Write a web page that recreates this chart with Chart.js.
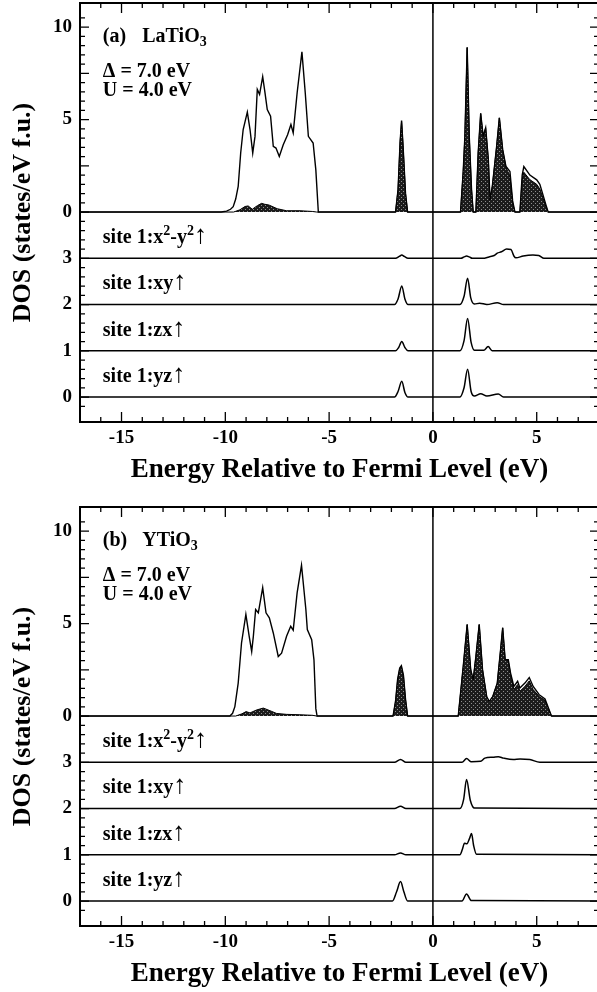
<!DOCTYPE html>
<html>
<head>
<meta charset="utf-8">
<script src="https://cdn.jsdelivr.net/npm/chart.js@4.4.1/dist/chart.umd.min.js"></script>
<style>
    html, body { margin: 0; padding: 0; background: #fff; overflow: hidden; width: 597px; height: 992px; }
    .panel { position: absolute; left: 0; width: 600px; height: 488px; }
    #pa { top: 0; }
    #pb { top: 504px; }
</style>
</head>
<body>
<div class="panel" id="pa"><canvas id="ca" width="600" height="488"></canvas></div>
<div class="panel" id="pb"><canvas id="cb" width="600" height="488"></canvas></div>
<script>
// DOS panels: total DOS (upper) + Ti partial DOS stacked below

const SERIF = "'Liberation Serif', 'Times New Roman', 'DejaVu Serif', serif";

// axes
const energyMin = -17, energyMax = 8;
const xTickLabels = [-15, -10, -5, 0, 5];
const yUpperLabels = [0, 5, 10];
const yLowerLabels = [0, 1, 2, 3];
const yMin = -11.35, yMax = 11.3;
const lowerScale = 2.5;     // one lower unit = 2.5 upper units
const lowerZero = -10;      // upper-scale position of lower "0"
const orbitalBase = [3, 2, 1, 0];   // x2-y2, xy, zx, yz

// (a) LaTiO3  [energy eV, DOS]
const laTotal = [[-17,0],[-10.2,0],[-9.94,0.05],[-9.75,0.15],[-9.62,0.29],[-9.5,0.7],[-9.38,1.38],[-9.26,3.19],[-9.14,4.46],[-8.94,5.4],[-8.81,4.46],[-8.68,3.19],[-8.57,4.09],[-8.46,6.63],[-8.35,6.36],[-8.2,7.32],[-8.09,6.45],[-7.98,5.54],[-7.82,5.18],[-7.69,3.55],[-7.56,3.46],[-7.4,3.0],[-7.21,3.64],[-7.0,4.18],[-6.84,4.73],[-6.73,4.28],[-6.54,6.45],[-6.31,8.66],[-6.15,6.45],[-6.0,4.09],[-5.77,3.73],[-5.64,2.28],[-5.52,0],
    [-1.8,0],[-1.68,1.2],[-1.58,3.8],[-1.51,4.95],[-1.44,3.6],[-1.32,1.0],[-1.22,0],
    [1.33,0],[1.46,2.2],[1.54,4.09],[1.65,8.9],[1.75,4.09],[1.86,1.2],[1.94,0],
    [2.07,0],[2.18,3.19],[2.3,5.33],[2.42,4.09],[2.54,4.55],[2.67,2.83],[2.75,0.65],[2.86,1.38],[3.07,3.55],[3.2,5.09],[3.36,3.37],[3.52,2.46],[3.71,2.19],[3.84,0.6],[3.95,0],
    [4.19,0],[4.3,2.0],[4.38,2.46],[4.67,2.0],[5.0,1.74],[5.15,1.5],[5.44,0.4],[5.55,0],[8,0]];
const laTi = [[-17,0],[-9.6,0],[-9.3,0.12],[-9.05,0.3],[-8.9,0.33],[-8.7,0.15],[-8.45,0.35],[-8.25,0.47],[-8.1,0.42],[-7.9,0.38],[-7.5,0.18],[-7.05,0.07],[-6.4,0.07],[-5.8,0.03],[-5.6,0],
    [-1.8,0],[-1.68,1.2],[-1.58,3.8],[-1.51,4.9],[-1.44,3.6],[-1.32,1.0],[-1.22,0],
    [1.33,0],[1.46,2.2],[1.54,4.09],[1.65,8.9],[1.75,4.09],[1.86,1.2],[1.94,0],
    [2.07,0],[2.18,3.19],[2.3,5.33],[2.42,4.09],[2.54,4.55],[2.67,2.83],[2.75,0.65],[2.86,1.38],[3.07,3.55],[3.2,5.09],[3.36,3.37],[3.52,2.4],[3.71,1.95],[3.84,0.5],[3.95,0],
    [4.19,0],[4.3,1.75],[4.38,2.15],[4.67,1.75],[5.0,1.5],[5.15,1.25],[5.44,0.3],[5.55,0],[8,0]];
const laX2y2 = [[-17,0],[-1.8,0],[-1.62,0.04],[-1.5,0.07],[-1.38,0.04],[-1.2,0],[1.35,0],[1.5,0.03],[1.62,0.05],[1.75,0.03],[1.9,0],[2.4,0],[2.7,0.03],[2.95,0.06],[3.1,0.11],[3.3,0.14],[3.55,0.2],[3.76,0.19],[3.9,0.05],[4.0,0.01],[4.35,0.05],[4.82,0.07],[5.1,0.06],[5.35,0],[8,0]];
const laXy = [[-17,0],[-1.85,0],[-1.68,0.12],[-1.5,0.4],[-1.35,0.12],[-1.2,0],[1.3,0],[1.5,0.18],[1.67,0.57],[1.82,0.15],[2.0,0.01],[2.25,0.03],[2.6,0],[3.1,0.04],[3.4,0],[8,0]];
const laZx = [[-17,0],[-1.8,0],[-1.65,0.07],[-1.5,0.2],[-1.35,0.07],[-1.2,0],[1.3,0],[1.5,0.22],[1.67,0.7],[1.84,0.18],[2.0,0.01],[2.45,0.01],[2.66,0.09],[2.85,0],[8,0]];
const laYz = [[-17,0],[-1.85,0],[-1.68,0.12],[-1.5,0.34],[-1.35,0.1],[-1.2,0],[1.3,0],[1.5,0.2],[1.67,0.6],[1.84,0.12],[2.0,0.02],[2.3,0.07],[2.6,0.02],[3.15,0.065],[3.4,0],[8,0]];

// (b) YTiO3
const ytTotal = [[-17,0],[-9.78,0],[-9.65,0.15],[-9.54,0.51],[-9.38,1.78],[-9.22,3.95],[-9.01,5.49],[-8.85,4.31],[-8.73,3.49],[-8.65,4.31],[-8.54,5.76],[-8.41,5.58],[-8.2,6.94],[-8.04,5.58],[-7.88,5.31],[-7.69,4.49],[-7.45,3.22],[-7.29,3.4],[-7.05,4.31],[-6.85,4.85],[-6.73,4.64],[-6.54,6.67],[-6.33,8.15],[-6.12,5.76],[-6.05,4.67],[-5.84,4.13],[-5.73,3.04],[-5.64,0.4],[-5.58,0],
    [-1.92,0],[-1.8,0.8],[-1.7,2.0],[-1.6,2.6],[-1.52,2.72],[-1.42,2.2],[-1.32,0.9],[-1.22,0],
    [1.22,0],[1.46,2.68],[1.65,4.95],[1.82,2.5],[1.94,1.96],[2.07,3.22],[2.23,4.95],[2.39,2.5],[2.59,1.05],[2.71,0.78],[2.88,1.05],[3.1,1.78],[3.26,3.59],[3.36,4.77],[3.48,3.04],[3.63,3.04],[3.74,2.32],[3.9,1.6],[4.08,1.88],[4.19,1.52],[4.43,1.78],[4.64,2.08],[4.83,1.6],[5.12,1.15],[5.4,0.92],[5.71,0],[8,0]];
const ytTi = [[-17,0],[-9.5,0],[-9.2,0.12],[-9.0,0.24],[-8.81,0.17],[-8.49,0.33],[-8.17,0.43],[-7.85,0.29],[-7.53,0.14],[-7.05,0.09],[-6.41,0.07],[-5.8,0.04],[-5.6,0],
    [-1.92,0],[-1.8,0.78],[-1.7,1.95],[-1.6,2.55],[-1.52,2.68],[-1.42,2.15],[-1.32,0.88],[-1.22,0],
    [1.22,0],[1.46,2.68],[1.65,4.95],[1.82,2.5],[1.94,1.96],[2.07,3.22],[2.23,4.95],[2.39,2.5],[2.59,1.05],[2.71,0.78],[2.88,1.05],[3.1,1.78],[3.26,3.59],[3.36,4.77],[3.48,3.04],[3.63,3.0],[3.74,2.25],[3.9,1.43],[4.08,1.7],[4.19,1.34],[4.43,1.6],[4.64,1.9],[4.83,1.43],[5.12,1.05],[5.4,0.85],[5.71,0],[8,0]];
const ytX2y2 = [[-17,0],[-1.85,0],[-1.56,0.06],[-1.3,0],[1.4,0],[1.62,0.08],[1.85,0.01],[2.3,0.02],[2.5,0.09],[2.9,0.11],[3.15,0.12],[3.4,0.09],[3.87,0.06],[4.2,0.07],[4.67,0.06],[5.15,0],[8,0]];
const ytXy = [[-17,0],[-1.85,0],[-1.56,0.05],[-1.3,0],[1.3,0],[1.48,0.2],[1.62,0.63],[1.8,0.18],[2.0,0.01],[8,0]];
const ytZx = [[-17,0],[-1.85,0],[-1.56,0.04],[-1.3,0],[1.3,0],[1.42,0.12],[1.52,0.25],[1.64,0.24],[1.76,0.35],[1.86,0.46],[1.96,0.2],[2.1,0.01],[8,0]];
const ytYz = [[-17,0],[-1.95,0],[-1.75,0.2],[-1.56,0.42],[-1.4,0.2],[-1.22,0],[1.4,0],[1.62,0.15],[1.85,0.01],[8,0]];

/**
 * Dark speckled fill used for the Ti partial DOS
 */
function makeHatch() {
    const c = document.createElement('canvas');
    c.width = 4; c.height = 4;
    const g = c.getContext('2d');
    g.fillStyle = '#1c1c1c';
    g.fillRect(0, 0, 4, 4);
    g.fillStyle = '#8e8e8e';
    g.fillRect(1, 1, 1, 1);
    g.fillRect(3, 3, 1, 1);
    return g.createPattern(c, 'repeat');
}

function pts(arr, base) {
    return arr.map(([e, v]) => ({ x: e, y: (base || 0) + v }));
}

/**
 * Draw text with sub/superscript pieces, starting at baseline (x, y)
 */
function drawRich(ctx, x, y, parts, size) {
    let cx = x;
    parts.forEach(p => {
        const small = p.sup || p.sub;
        const s = small ? Math.round(size * 0.68) : size;
        ctx.font = p.font || ('bold ' + s + 'px ' + SERIF);
        const dy = p.sup ? -size * 0.4 : (p.sub ? size * 0.22 : 0);
        ctx.fillText(p.t, cx, y + dy);
        cx += ctx.measureText(p.t).width;
    });
}

const ARROW = { t: '\u2191', font: 'normal 26px ' + SERIF };
const orbitalLabels = [
    [{ t: 'site 1:x' }, { t: '2', sup: true }, { t: '-y' }, { t: '2', sup: true }, ARROW],
    [{ t: 'site 1:xy' }, ARROW],
    [{ t: 'site 1:zx' }, ARROW],
    [{ t: 'site 1:yz' }, ARROW]
];

const framePlugin = {
    id: 'frameTicks',
    afterDatasetsDraw(chart) {
        const { ctx, chartArea: a, scales } = chart;
        const x = scales.x, y = scales.y, yLow = scales.yLow;
        const p = chart.options.plugins.frameTicks;
        ctx.save();
        ctx.strokeStyle = '#000';

        // Fermi level
        ctx.lineWidth = 1.5;
        const x0 = x.getPixelForValue(0);
        ctx.beginPath();
        ctx.moveTo(x0, a.top);
        ctx.lineTo(x0, a.bottom);
        ctx.stroke();

        // energy ticks (bottom and top, inward)
        ctx.lineWidth = 1.3;
        ctx.beginPath();
        x.ticks.forEach(t => {
            if (!Number.isInteger(t.value)) return;
            const px = x.getPixelForValue(t.value);
            const len = t.value % 5 === 0 ? 10 : 5;
            ctx.moveTo(px, a.bottom); ctx.lineTo(px, a.bottom - len);
            ctx.moveTo(px, a.top); ctx.lineTo(px, a.top + len);
        });
        // DOS ticks (left and right, inward)
        y.ticks.forEach(t => {
            const v = Math.round(t.value * 2) / 2;
            if (Math.abs(v - t.value) > 1e-6) return;
            const py = y.getPixelForValue(v);
            const q = v / lowerScale;
            const len = Math.abs(q - Math.round(q)) < 1e-6 ? 9 : 5;
            ctx.moveTo(a.left, py); ctx.lineTo(a.left + len, py);
            ctx.moveTo(a.right, py); ctx.lineTo(a.right - len, py);
        });
        ctx.stroke();

        // frame
        ctx.lineWidth = 2;
        ctx.strokeRect(a.left, a.top, a.right - a.left, a.bottom - a.top);

        // annotations
        ctx.fillStyle = '#000';
        ctx.textBaseline = 'alphabetic';
        ctx.textAlign = 'left';
        const lx = x.getPixelForValue(-15.9);
        drawRich(ctx, lx, y.getPixelForValue(9.21), [{ t: p.tag }], 20);
        drawRich(ctx, x.getPixelForValue(-14.0), y.getPixelForValue(9.21), p.compound, 20);
        drawRich(ctx, lx, y.getPixelForValue(7.32), [{ t: '\u0394 = 7.0 eV' }], 20);
        drawRich(ctx, lx, y.getPixelForValue(6.29), [{ t: 'U = 4.0 eV' }], 20);
        orbitalLabels.forEach((parts, i) => {
            drawRich(ctx, lx, yLow.getPixelForValue(orbitalBase[i] + 0.33), parts, 20);
        });
        ctx.restore();
    }
};

function makePanel(canvasId, p) {
    const hatch = makeHatch();
    const datasets = [
        {
            data: pts(p.ti), yAxisID: 'y', borderColor: '#000', borderWidth: 1,
            backgroundColor: hatch, fill: 'origin', pointRadius: 0, tension: 0
        },
        {
            data: pts(p.total), yAxisID: 'y', borderColor: '#000', borderWidth: 1.4,
            fill: false, pointRadius: 0, tension: 0
        }
    ];
    p.orbitals.forEach((arr, i) => {
        datasets.push({
            data: pts(arr, orbitalBase[i]), yAxisID: 'yLow', borderColor: '#000', borderWidth: 1.5,
            fill: false, pointRadius: 0, cubicInterpolationMode: 'monotone'
        });
    });

    const tickFont = { family: SERIF, size: 19, weight: 'bold' };
    const titleFont = { family: SERIF, size: 27, weight: 'bold' };

    return new Chart(document.getElementById(canvasId), {
        type: 'line',
        data: { datasets: datasets },
        options: {
            responsive: false,
            animation: false,
            devicePixelRatio: 1,
            events: [],
            layout: { padding: { top: 3, right: 1, left: 0, bottom: 0 } },
            scales: {
                x: {
                    type: 'linear', min: energyMin, max: energyMax,
                    grid: { display: false, drawTicks: false },
                    border: { display: false },
                    ticks: {
                        stepSize: 1, autoSkip: false, maxRotation: 0, padding: 5,
                        color: '#000', font: tickFont,
                        callback: v => xTickLabels.includes(v) ? String(v) : ''
                    },
                    title: {
                        display: true, text: 'Energy Relative to Fermi Level (eV)',
                        color: '#000', font: titleFont, padding: { top: 0, bottom: 2 }
                    },
                    afterFit(s) { s.height = 66; s.paddingLeft = 0; s.paddingRight = 0; }
                },
                y: {
                    type: 'linear', position: 'left', min: yMin, max: yMax,
                    grid: { display: false, drawTicks: false },
                    border: { display: false },
                    ticks: {
                        stepSize: 0.5, autoSkip: false, padding: 8,
                        color: '#000', font: tickFont,
                        callback: v => {
                            const r = Math.round(v * 100) / 100;
                            if (r >= 0 && yUpperLabels.includes(r)) return String(r);
                            const low = (r - lowerZero) / lowerScale;
                            if (r < 0 && yLowerLabels.includes(low)) return String(low);
                            return '';
                        }
                    },
                    title: {
                        display: true, text: 'DOS (states/eV f.u.)',
                        color: '#000', font: { family: SERIF, size: 26, weight: 'bold' },
                        padding: { top: 8, bottom: 0 }
                    },
                    afterFit(s) { s.width = 80; s.paddingTop = 0; s.paddingBottom = 0; }
                },
                yLow: {
                    type: 'linear', display: false,
                    min: (yMin - lowerZero) / lowerScale,
                    max: (yMax - lowerZero) / lowerScale
                }
            },
            plugins: {
                legend: { display: false },
                tooltip: { enabled: false },
                frameTicks: { tag: p.tag, compound: p.compound }
            }
        },
        plugins: [framePlugin]
    });
}

makePanel('ca', {
    tag: '(a)',
    compound: [{ t: 'LaTiO' }, { t: '3', sub: true }],
    total: laTotal, ti: laTi,
    orbitals: [laX2y2, laXy, laZx, laYz]
});

makePanel('cb', {
    tag: '(b)',
    compound: [{ t: 'YTiO' }, { t: '3', sub: true }],
    total: ytTotal, ti: ytTi,
    orbitals: [ytX2y2, ytXy, ytZx, ytYz]
});
</script>
</body>
</html>
